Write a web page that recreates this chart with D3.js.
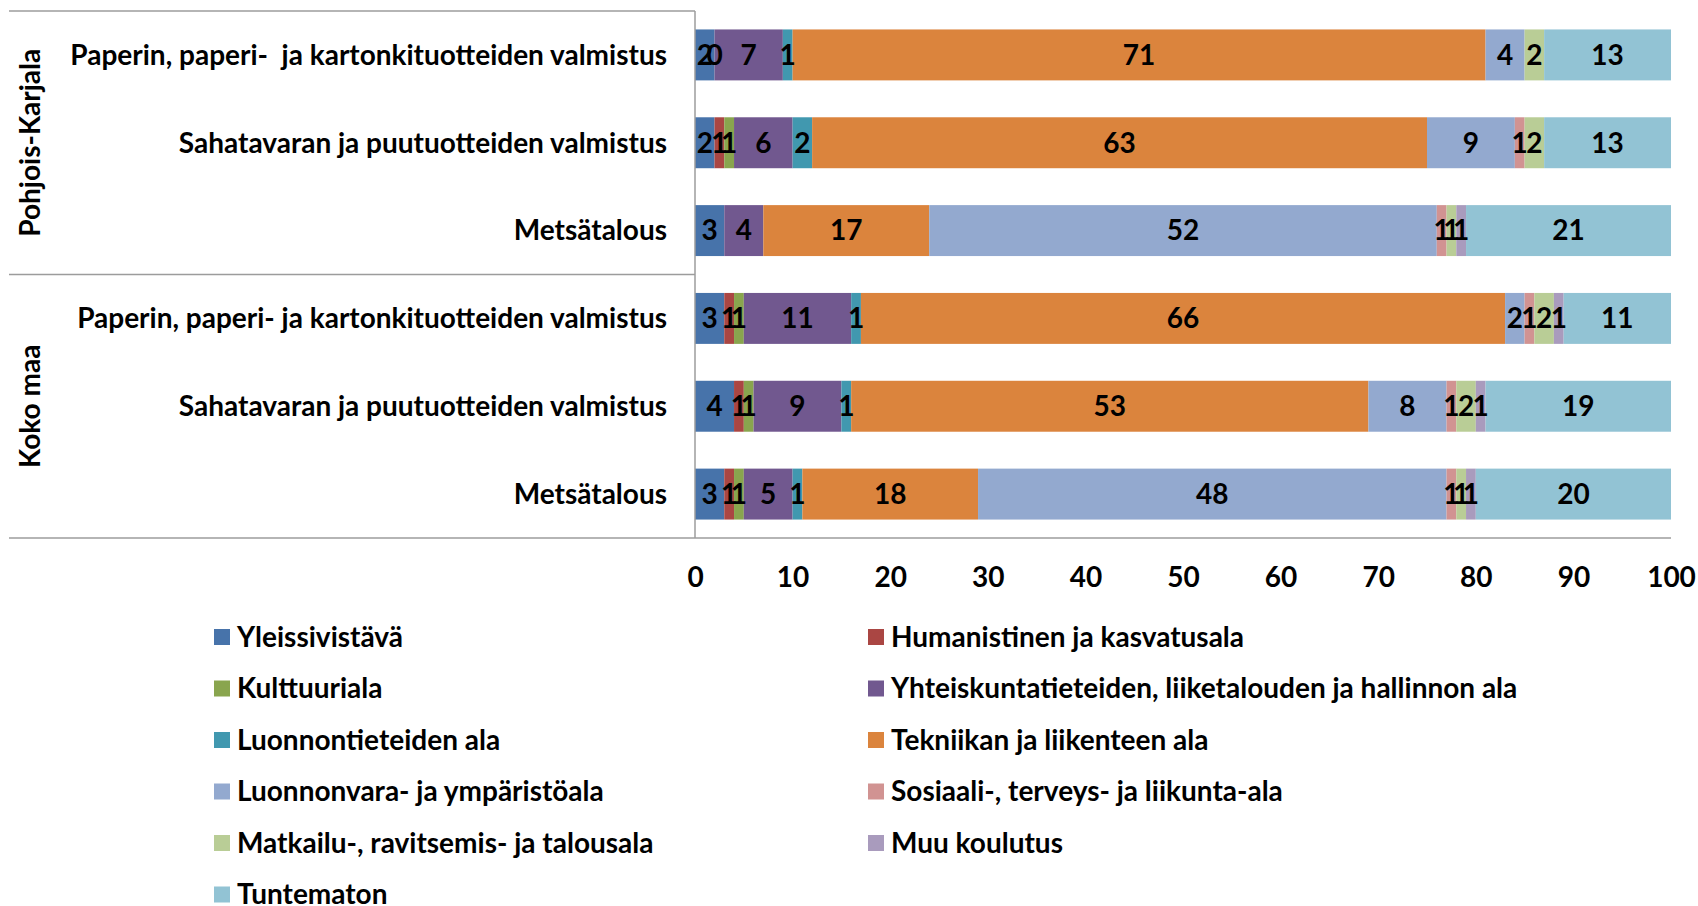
<!DOCTYPE html>
<html>
<head>
<meta charset="utf-8">
<script src="https://cdn.jsdelivr.net/npm/d3@7"></script>
<style>
  body { margin: 0; background: #fff; }
  svg { font-family: Lato, "Open Sans", sans-serif; font-weight: bold; }
  text { white-space: pre; }
</style>
</head>
<body>
<svg id="chart" width="1698" height="906"></svg>
<script>
// rows, top to bottom
var rows = [
  'PK|Paperin, paperi-  ja kartonkituotteiden valmistus',
  'PK|Sahatavaran ja puutuotteiden valmistus',
  'PK|Metsätalous',
  'KM|Paperin, paperi- ja kartonkituotteiden valmistus',
  'KM|Sahatavaran ja puutuotteiden valmistus',
  'KM|Metsätalous'
];
var groups = ['Pohjois-Karjala', 'Koko maa'];

var seriesNames = [
  'Yleissivistävä',
  'Humanistinen ja kasvatusala',
  'Kulttuuriala',
  'Yhteiskuntatieteiden, liiketalouden ja hallinnon ala',
  'Luonnontieteiden ala',
  'Tekniikan ja liikenteen ala',
  'Luonnonvara- ja ympäristöala',
  'Sosiaali-, terveys- ja liikunta-ala',
  'Matkailu-, ravitsemis- ja talousala',
  'Muu koulutus',
  'Tuntematon'
];
var seriesColors = ['#4773AA', '#AA4643', '#89A54E', '#71588F', '#4198AF', '#DB843D',
  '#93A9CF', '#D19392', '#B9CD96', '#A99BBD', '#92C3D4'];

// values per series, in row order (null = not present)
var yleissivistava = [2, 2, 3, 3, 4, 3];
var humanistinen = [0, 1, null, 1, 1, 1];
var kulttuuriala = [null, 1, null, 1, 1, 1];
var yhteiskunta = [7, 6, 4, 11, 9, 5];
var luonnontieteet = [1, 2, null, 1, 1, 1];
var tekniikka = [71, 63, 17, 66, 53, 18];
var luonnonvara = [4, 9, 52, 2, 8, 48];
var sosiaali = [null, 1, 1, 1, 1, 1];
var matkailu = [2, 2, 1, 2, 2, 1];
var muu = [null, null, 1, 1, 1, 1];
var tuntematon = [13, 13, 21, 11, 19, 20];

var seriesValues = [yleissivistava, humanistinen, kulttuuriala, yhteiskunta, luonnontieteet,
  tekniikka, luonnonvara, sosiaali, matkailu, muu, tuntematon];

var xTicks = [0, 10, 20, 30, 40, 50, 60, 70, 80, 90, 100];

var table = rows.map(function (r, i) {
  var o = { row: r };
  seriesNames.forEach(function (s, j) { o[s] = seriesValues[j][i]; });
  return o;
});

var svg = d3.select('#chart');
var plotLeft = 695, plotRight = 1671, plotTop = 11, plotBottom = 538;
var fontSize = 28;

// Scales
var x = d3.scaleLinear().domain([0, 100]).range([plotLeft, plotRight]);
var y = d3.scaleBand().domain(rows).range([plotTop, plotBottom]).paddingInner(0.42).paddingOuter(0.21);
var color = d3.scaleOrdinal().domain(seriesNames).range(seriesColors);

var stack = d3.stack().keys(seriesNames).value(function (d, k) { return d[k] == null ? 0 : d[k]; });
var layers = stack(table);

var g = svg.append('g');
layers.forEach(function (layer) {
  var key = layer.key;
  g.selectAll(null).data(layer).enter().append('rect')
    .attr('x', function (d) { return x(d[0]); })
    .attr('y', function (d) { return y(d.data.row); })
    .attr('width', function (d) { return x(d[1]) - x(d[0]); })
    .attr('height', y.bandwidth())
    .attr('fill', color(key));
});

// segment labels
layers.forEach(function (layer) {
  var key = layer.key;
  g.selectAll(null).data(layer.filter(function (d) { return d.data[key] != null; })).enter().append('text')
    .attr('x', function (d) { return (x(d[0]) + x(d[1])) / 2; })
    .attr('y', function (d) { return y(d.data.row) + y.bandwidth() / 2; })
    .attr('dy', '0.35em')
    .attr('text-anchor', 'middle')
    .attr('font-size', fontSize)
    .attr('fill', '#000')
    .text(function (d) { return d.data[key]; });
});

// frame lines
var lineColor = '#9c9c9c';
function hline(x1, x2, yy) {
  svg.append('line').attr('x1', x1).attr('x2', x2).attr('y1', yy).attr('y2', yy)
    .attr('stroke', lineColor).attr('stroke-width', 1.5);
}
hline(9, plotLeft, plotTop);
var sep = (y(rows[2]) + y.bandwidth() + y(rows[3])) / 2;
hline(9, plotLeft, sep);
hline(9, plotRight, plotBottom);
svg.append('line').attr('x1', plotLeft).attr('x2', plotLeft).attr('y1', plotTop).attr('y2', plotBottom)
  .attr('stroke', lineColor).attr('stroke-width', 1.5);

// category labels
svg.selectAll('.cat').data(rows).enter().append('text')
  .attr('class', 'cat')
  .attr('x', 667)
  .attr('y', function (d) { return y(d) + y.bandwidth() / 2; })
  .attr('dy', '0.35em')
  .attr('text-anchor', 'end')
  .attr('font-size', fontSize)
  .text(function (d) { return d.split('|')[1]; });

// group labels
groups.forEach(function (gname, i) {
  var y0 = i === 0 ? plotTop : sep, y1 = i === 0 ? sep : plotBottom;
  svg.append('text')
    .attr('transform', 'translate(30,' + (y0 + y1) / 2 + ') rotate(-90)')
    .attr('dy', '0.35em')
    .attr('text-anchor', 'middle')
    .attr('font-size', fontSize)
    .text(gname);
});

// x axis
var xAxis = d3.axisBottom(x).tickValues(xTicks).tickSize(0).tickPadding(0);
var ax = svg.append('g').attr('transform', 'translate(0,' + plotBottom + ')').call(xAxis);
ax.select('.domain').remove();
ax.selectAll('text')
  .attr('y', 39)
  .attr('dy', '0.35em')
  .attr('font-size', fontSize)
  .attr('font-family', 'Lato, sans-serif')
  .attr('font-weight', 'bold')
  .attr('fill', '#000');

// legend
var legend = svg.append('g');
seriesNames.forEach(function (s, i) {
  var col = i % 2, row = Math.floor(i / 2);
  var lx = col === 0 ? 214 : 868;
  var ly = 637 + row * 51.5;
  legend.append('rect').attr('x', lx).attr('y', ly - 8).attr('width', 16).attr('height', 16)
    .attr('fill', color(s));
  legend.append('text').attr('x', lx + 23).attr('y', ly).attr('dy', '0.35em')
    .attr('font-size', fontSize).text(s);
});
</script>
</body>
</html>
